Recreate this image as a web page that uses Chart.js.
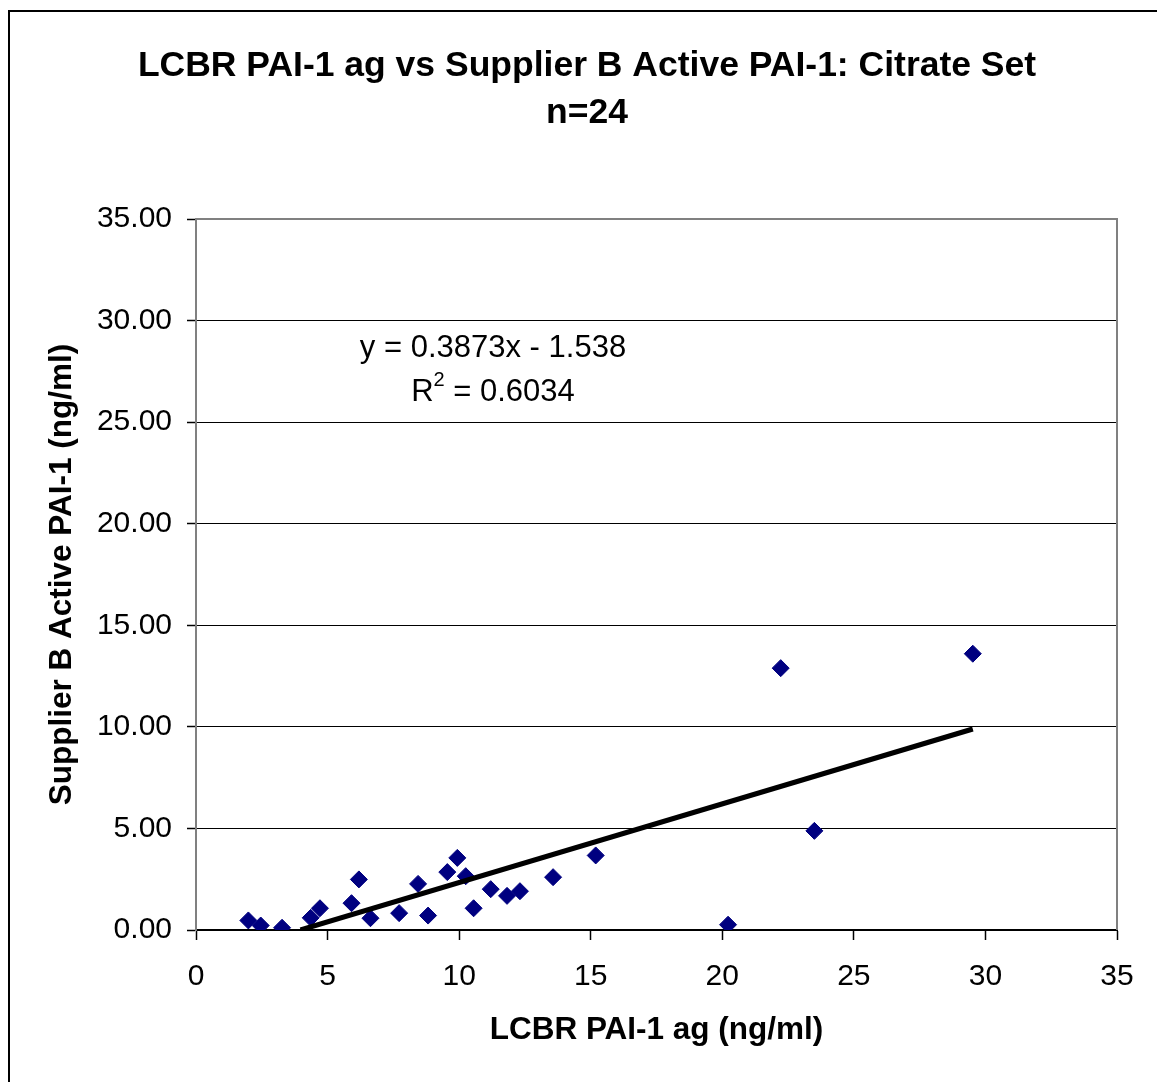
<!DOCTYPE html>
<html>
<head>
<meta charset="utf-8">
<script src="https://cdn.jsdelivr.net/npm/chart.js@4.4.1/dist/chart.umd.min.js"></script>
<style>
  html, body { margin: 0; padding: 0; background: #fff; }
  #wrap { width: 1157px; height: 1082px; position: relative; }
</style>
</head>
<body>
<div id="wrap"><canvas id="myChart"></canvas></div>
<script>
// chart texts
const titleLines = ['LCBR PAI-1 ag vs Supplier B Active PAI-1: Citrate Set', 'n=24'];
const xTitle = 'LCBR PAI-1 ag (ng/ml)';
const yTitle = 'Supplier B Active PAI-1 (ng/ml)';

// values (x = LCBR ag, y = Supplier B active)
const lcbrAg = [1.99, 2.46, 3.27, 4.36, 4.71, 5.91, 6.19, 6.63, 7.72, 8.44, 8.82, 9.55,
  9.93, 10.25, 10.55, 11.20, 11.82, 12.31, 13.57, 15.19, 20.22, 22.22, 23.50, 29.52];
const activePai = [0.47, 0.22, 0.11, 0.60, 1.07, 1.32, 2.49, 0.58, 0.83, 2.27, 0.71, 2.85,
  3.55, 2.65, 1.07, 2.01, 1.68, 1.91, 2.60, 3.67, 0.26, 12.89, 4.88, 13.60];

// linear trendline as printed on the chart
const trendSlope = 0.3873;
const trendIntercept = -1.538;
const rSquared = 0.6034;

const axisMin = 0;
const axisMax = 35;
const axisStep = 5;

const FONT = '"Liberation Sans", Arial, Helvetica, sans-serif';

const points = lcbrAg.map((x, i) => ({ x: x, y: activePai[i] }));
// Excel draws the trendline over the data's x range, cut where it leaves the axis
const lineStart = Math.max(Math.min(...lcbrAg), -trendIntercept / trendSlope);
const lineEnd = Math.max(...lcbrAg);
const trend = [lineStart, lineEnd].map(x => ({ x: x, y: trendSlope * x + trendIntercept }));

const decorations = {
  id: 'decorations',
  beforeDraw(chart) {
    const ctx = chart.ctx;
    ctx.save();
    ctx.fillStyle = '#fff';
    ctx.fillRect(0, 0, chart.width, chart.height);
    // outer chart frame (only left and top are inside the picture)
    ctx.strokeStyle = '#000';
    ctx.lineWidth = 2;
    ctx.beginPath();
    ctx.moveTo(9, chart.height + 5);
    ctx.lineTo(9, 11);
    ctx.lineTo(chart.width + 5, 11);
    ctx.stroke();
    ctx.restore();
  },
  beforeDatasetsDraw(chart) {
    const ctx = chart.ctx;
    const a = chart.chartArea;
    ctx.save();
    ctx.strokeStyle = '#808080';
    ctx.lineWidth = 2;
    ctx.beginPath();
    ctx.moveTo(a.left, a.top);
    ctx.lineTo(a.right, a.top);
    ctx.lineTo(a.right, a.bottom);
    ctx.stroke();
    ctx.restore();
  },
  afterDraw(chart) {
    const ctx = chart.ctx;
    const a = chart.chartArea;
    ctx.save();
    ctx.fillStyle = '#000';
    ctx.textAlign = 'center';
    ctx.textBaseline = 'middle';

    // main title
    ctx.font = 'bold 35.5px ' + FONT;
    titleLines.forEach((t, i) => ctx.fillText(t, 587, 66 + i * 47));

    // trendline equation
    const cx = a.left + 297;
    ctx.font = '31px ' + FONT;
    const sign = trendIntercept < 0 ? ' - ' : ' + ';
    ctx.fillText('y = ' + trendSlope + 'x' + sign + Math.abs(trendIntercept), cx, a.top + 129);

    const left = 'R';
    const right = ' = ' + rSquared;
    const wl = ctx.measureText(left).width;
    const wr = ctx.measureText(right).width;
    ctx.font = '20px ' + FONT;
    const ws = ctx.measureText('2').width;
    const x0 = cx - (wl + ws + wr) / 2;
    const y2 = a.top + 173;
    ctx.textAlign = 'left';
    ctx.font = '31px ' + FONT;
    ctx.fillText(left, x0, y2);
    ctx.font = '20px ' + FONT;
    ctx.fillText('2', x0 + wl, y2 - 12);
    ctx.font = '31px ' + FONT;
    ctx.fillText(right, x0 + wl + ws, y2);
    ctx.restore();
  }
};

const config = {
  type: 'scatter',
  data: {
    datasets: [
      {
        label: 'Trendline',
        data: trend,
        showLine: true,
        borderColor: '#000',
        borderWidth: 5,
        pointRadius: 0,
        fill: false,
        order: 0
      },
      {
        label: 'Citrate set',
        data: points,
        pointStyle: 'rectRot',
        pointRadius: 8.5,
        backgroundColor: '#000080',
        borderColor: '#000080',
        borderWidth: 1,
        order: 1
      }
    ]
  },
  options: {
    responsive: true,
    maintainAspectRatio: false,
    animation: false,
    layout: { padding: { top: 219, right: 40, bottom: 0, left: 0 } },
    plugins: {
      legend: { display: false },
      tooltip: { enabled: false },
      title: { display: false }
    },
    scales: {
      x: {
        type: 'linear',
        min: axisMin,
        max: axisMax,
        ticks: {
          stepSize: axisStep,
          color: '#000',
          padding: 19,
          maxRotation: 0,
          font: { family: FONT, size: 30 }
        },
        grid: {
          drawOnChartArea: false,
          drawTicks: true,
          tickLength: 10,
          tickColor: '#000',
          tickWidth: 1.5
        },
        border: { display: true, color: '#000', width: 2 },
        title: {
          display: true,
          text: xTitle,
          color: '#000',
          font: { family: FONT, size: 31.5, weight: 'bold' },
          padding: { top: 0, bottom: 33 }
        },
        afterFit(scale) { scale.height = 152; }
      },
      y: {
        type: 'linear',
        min: axisMin,
        max: axisMax,
        ticks: {
          stepSize: axisStep,
          color: '#000',
          padding: 15,
          font: { family: FONT, size: 30 },
          callback: (v) => v.toFixed(2)
        },
        grid: {
          color: (c) => (c.tick && c.tick.value === axisMax ? '#808080' : '#000'),
          lineWidth: 1,
          drawTicks: true,
          tickLength: 9,
          tickColor: '#000',
          tickWidth: 1.5
        },
        border: { display: true, color: '#808080', width: 2 },
        title: {
          display: true,
          text: yTitle,
          color: '#000',
          font: { family: FONT, size: 31.5, weight: 'bold' },
          padding: { top: 43, bottom: 0 }
        },
        afterFit(scale) { scale.width = 196; }
      }
    }
  },
  plugins: [decorations]
};

const ctx = document.getElementById('myChart');
const myChart = new Chart(ctx, config);
</script>
</body>
</html>
